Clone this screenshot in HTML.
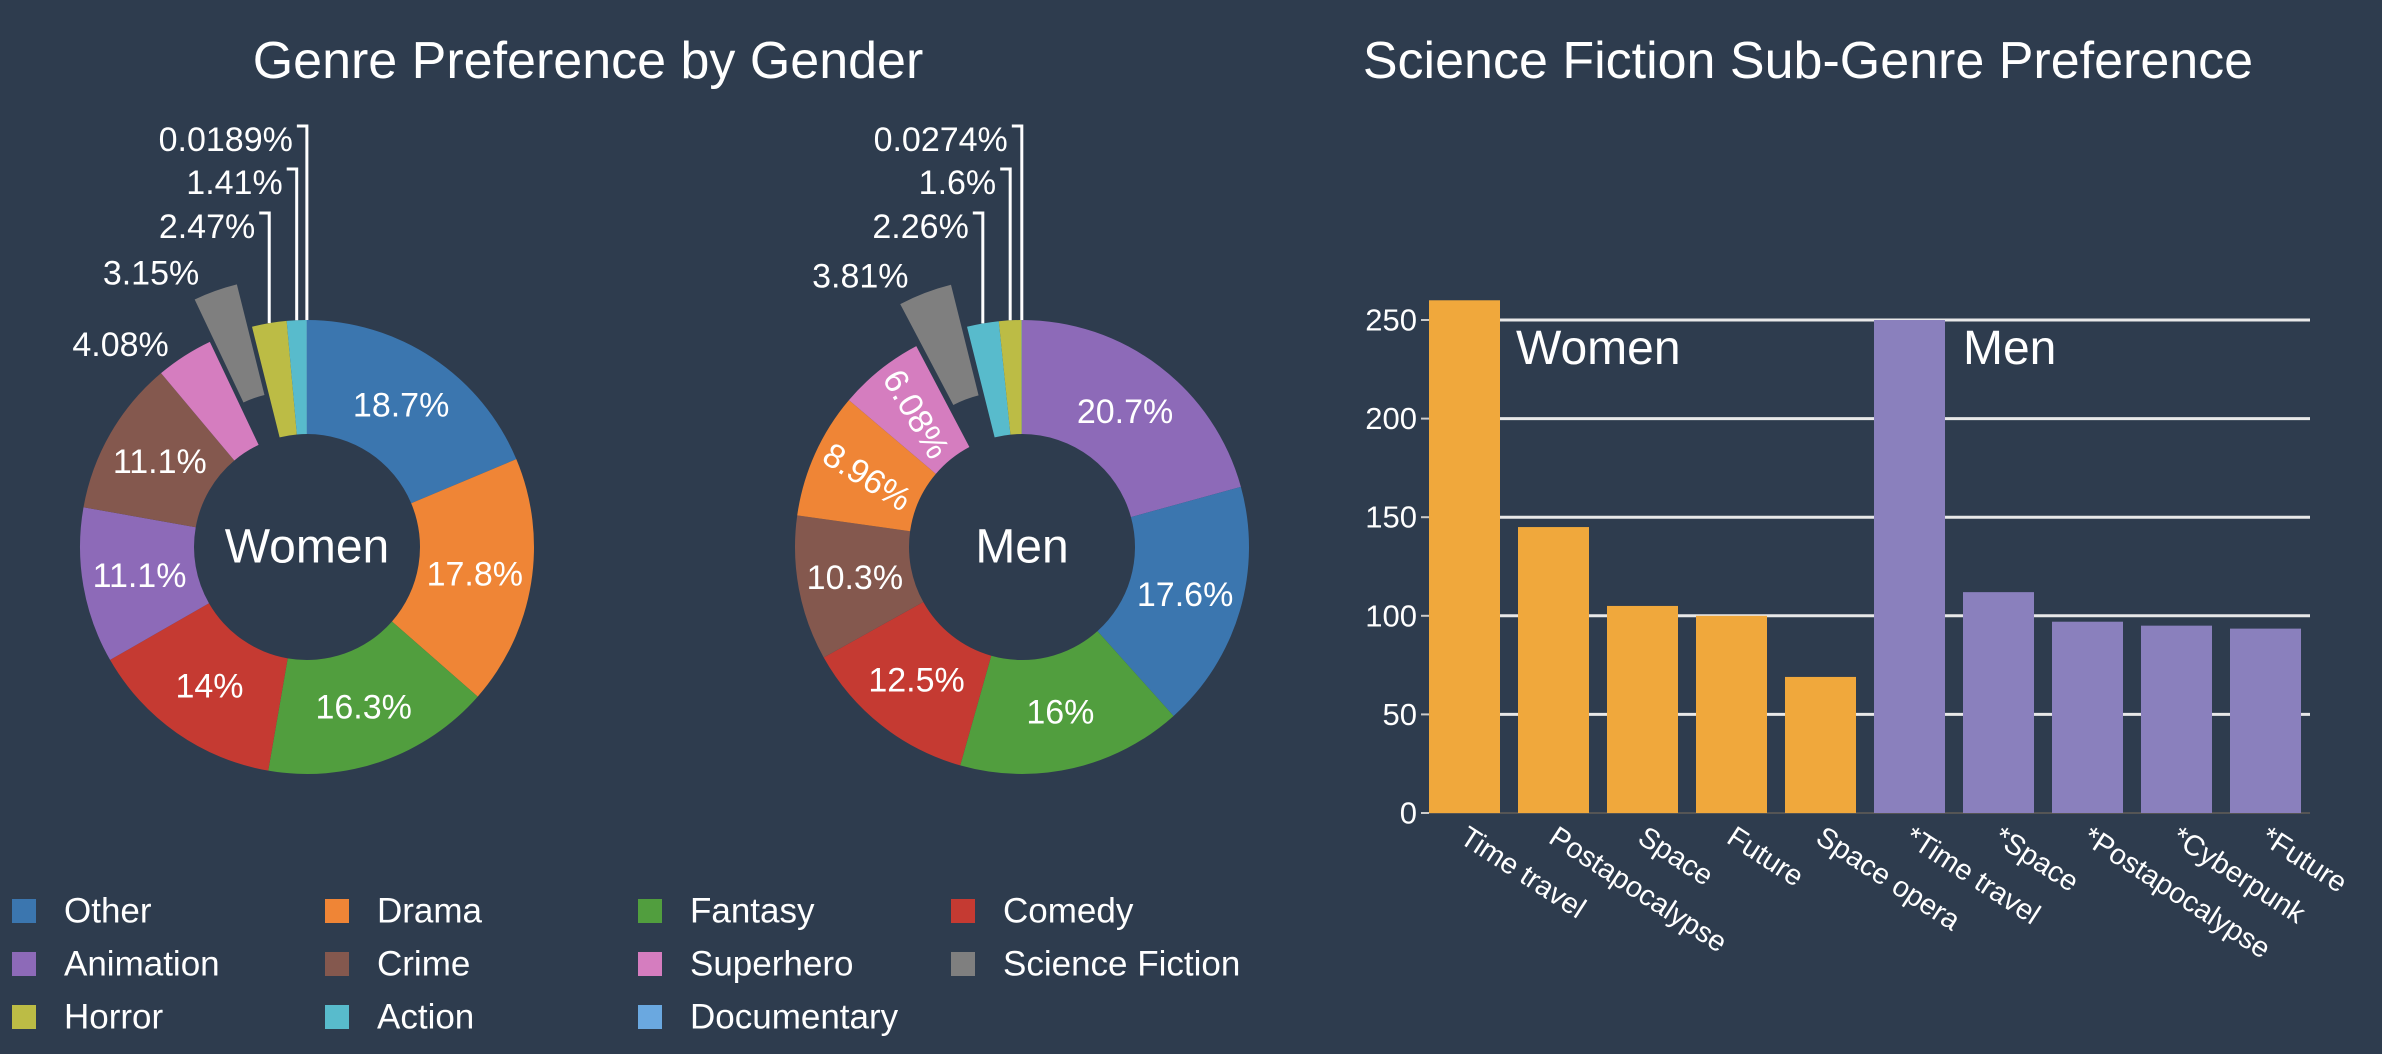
<!DOCTYPE html>
<html><head><meta charset="utf-8"><style>
html,body{margin:0;padding:0;background:#2e3c4e;}
svg{display:block;font-family:"Liberation Sans",sans-serif;}
text{fill:#fff;}
</style></head><body>
<svg id="root" width="2382" height="1054" viewBox="0 0 2382 1054">
<rect width="2382" height="1054" fill="#2e3c4e"/>
<text x="588" y="78" font-size="52" text-anchor="middle">Genre Preference by Gender</text>
<text x="1808" y="78" font-size="52" text-anchor="middle">Science Fiction Sub-Genre Preference</text>
<g id="pies"></g>
<g id="legend"></g>
<g id="bars"></g>
</svg>
<script>
const genres = ["Other","Drama","Fantasy","Comedy","Animation","Crime","Superhero","Science Fiction","Horror","Action","Documentary"];
const genreColors = ["#3b76af","#ef8536","#519e3e","#c53a32","#8d6ab8","#84584e","#d57dbf","#7f7f7f","#bcbc45","#58bbcc","#6aa8e0"];
const womenGenres = ["Other","Drama","Fantasy","Comedy","Animation","Crime","Superhero","Science Fiction","Horror","Action","Documentary"];
const womenValues = [18.7,17.8,16.3,14,11.1,11.1,4.08,3.15,2.47,1.41,0.0189];
const womenLabels = ["18.7%","17.8%","16.3%","14%","11.1%","11.1%","4.08%","3.15%","2.47%","1.41%","0.0189%"];
const menGenres = ["Animation","Other","Fantasy","Comedy","Crime","Drama","Superhero","Science Fiction","Action","Horror","Documentary"];
const menValues = [20.7,17.6,16,12.5,10.3,8.96,6.08,3.81,2.26,1.6,0.0274];
const menLabels = ["20.7%","17.6%","16%","12.5%","10.3%","8.96%","6.08%","3.81%","2.26%","1.6%","0.0274%"];

const barCategories = ["Time travel","Postapocalypse","Space","Future","Space opera","*Time travel","*Space","*Postapocalypse","*Cyberpunk","*Future"];
const barValues = [260,145,105,100,69,250,112,97,95,93.5];
const barGroups = ["Women","Women","Women","Women","Women","Men","Men","Men","Men","Men"];
const yTicks = [0,50,100,150,200,250];

const NS="http://www.w3.org/2000/svg";
function mk(tag,attrs,parent){const e=document.createElementNS(NS,tag);for(const k in attrs)e.setAttribute(k,attrs[k]);parent.appendChild(e);return e;}

function drawPie(cx,cy,names,values,labels,center,pieName){
  const g=mk("g",{},document.getElementById("pies"));
  
  
  const R=227,r=113,total=values.reduce((a,b)=>a+b,0);
  let a0=0;
  const outside=[];
  values.forEach((v,i)=>{
    const a1=a0+v/total*2*Math.PI, am=(a0+a1)/2;
    const nm=names[i];
    const exploded = nm==="Science Fiction";
    let ox=0,oy=0;
    if(exploded){ox=45*Math.sin(am);oy=-45*Math.cos(am);}
    const P=(rad,a)=>[cx+ox+rad*Math.sin(a),cy+oy-rad*Math.cos(a)];
    const large=(a1-a0)>Math.PI?1:0;
    const p1=P(R,a0),p2=P(R,a1),p3=P(r,a1),p4=P(r,a0);
    const path=mk("path",{d:`M${p1}A${R},${R} 0 ${large} 1 ${p2}L${p3}A${r},${r} 0 ${large} 0 ${p4}Z`,fill:genreColors[genres.indexOf(nm)]},g);
    
    
    const pct=v/total*100;
    if(pct>5){
      const [lx,ly]=P(170,am);
      let rot=0;
      if(pct<10){rot=am*180/Math.PI+90-360+8;}
      const t=mk("text",{x:lx,y:ly,"font-size":34,"text-anchor":"middle","dominant-baseline":"central",transform:rot?`rotate(${rot},${lx},${ly})`:""},g);
      t.textContent=labels[i];
      
      
    } else outside.push({i,am,pct,exploded});
    a0=a1;
  });
  const rows=[140,183,227];
  const n=outside.length;
  outside.forEach((o,k)=>{
    const t=mk("text",{"font-size":34,"dominant-baseline":"central"},g);
    t.textContent=labels[o.i];
    
    
    const fromEnd=n-1-k;
    if(fromEnd<3 && !o.exploded){
      const y=rows[fromEnd];
      const lx=cx+R*Math.sin(o.am);
      const py=cy-R*Math.cos(o.am);
      t.setAttribute("x",lx-14);t.setAttribute("y",y);t.setAttribute("text-anchor","end");
      const l=mk("polyline",{points:`${lx-10},${y-14} ${lx},${y-14} ${lx},${py}`,fill:"none",stroke:"#fff","stroke-width":3},g);
      
      
    } else {
      const a=o.am-10*Math.PI/180, rad=o.exploded?315:275;
      t.setAttribute("x",cx+rad*Math.sin(a));t.setAttribute("y",cy-rad*Math.cos(a));t.setAttribute("text-anchor","middle");
    }
  });
  const c=mk("text",{x:cx,y:cy,"font-size":48,"text-anchor":"middle","dominant-baseline":"central"},g);
  c.textContent=center;
  
  
}
drawPie(307,547,womenGenres,womenValues,womenLabels,"Women","women-donut");
drawPie(1022,547,menGenres,menValues,menLabels,"Men","men-donut");

const lg=document.getElementById("legend");
genres.forEach((nm,i)=>{
  const col=i%4,row=Math.floor(i/4);
  const x=12+col*313,y=911+row*53;
  const it=mk("g",{},lg);
  
  
  mk("rect",{x:x,y:y-12,width:24,height:24,fill:genreColors[i]},it);
  const t=mk("text",{x:x+52,y:y,"font-size":35,"dominant-baseline":"central"},it);
  t.textContent=nm;
});

const bg=document.getElementById("bars");
const X0=1429,step=89,y0=813,y250=320;
const ys=v=>y0-(v/250)*(y0-y250);
const xs=i=>X0+i*step;
yTicks.forEach(v=>{
  if(v>0){const gl=mk("line",{x1:X0,x2:2310,y1:ys(v),y2:ys(v),stroke:"#e8e8e8","stroke-width":3},bg);
  
  }
  mk("line",{x1:X0-8,x2:X0,y1:ys(v),y2:ys(v),stroke:"#ccc","stroke-width":2},bg);
  const t=mk("text",{x:X0-12,y:ys(v),"font-size":31,"text-anchor":"end","dominant-baseline":"central"},bg);
  t.textContent=v;
  
  
});
mk("line",{x1:X0,x2:2310,y1:y0,y2:y0,stroke:"#555","stroke-width":2},bg);
barValues.forEach((v,i)=>{
  const b=mk("rect",{x:xs(i),y:ys(v),width:71,height:y0-ys(v),fill:barGroups[i]==="Women"?"#f0a83c":"#8a80bd"},bg);
  
  
  const lx=xs(i)+40,ly=y0+12;
  const t=mk("text",{x:lx,y:ly,"font-size":29,"dominant-baseline":"hanging",transform:`rotate(33,${lx},${ly})`},bg);
  t.textContent=barCategories[i];
  
  
});
const gw=mk("text",{x:1516,y:364,"font-size":48},bg);gw.textContent="Women";


const gm=mk("text",{x:1963,y:364,"font-size":48},bg);gm.textContent="Men";


</script>
</body></html>
